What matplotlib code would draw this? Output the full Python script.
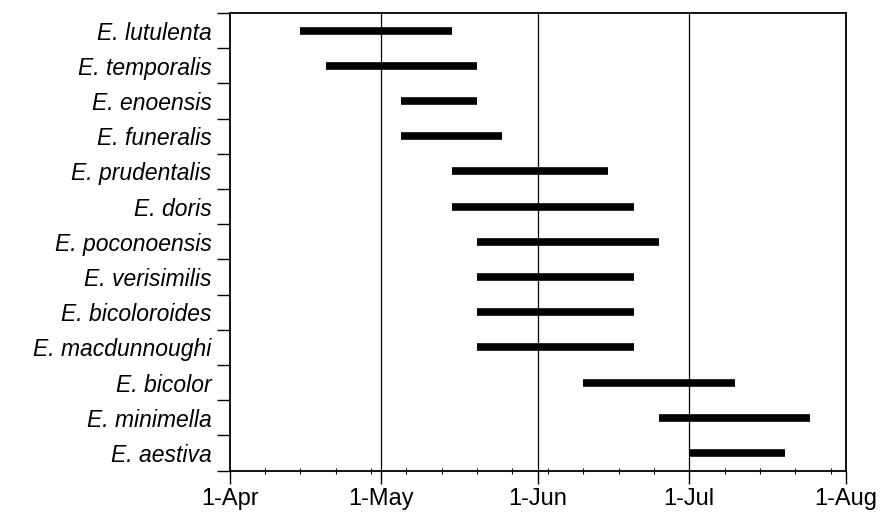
import datetime as dt
import matplotlib
matplotlib.use('Agg')
import matplotlib.pyplot as plt
import matplotlib.dates as mdates
from matplotlib.ticker import FixedLocator

species = ['E. lutulenta', 'E. temporalis', 'E. enoensis', 'E. funeralis',
           'E. prudentalis', 'E. doris', 'E. poconoensis', 'E. verisimilis',
           'E. bicoloroides', 'E. macdunnoughi', 'E. bicolor', 'E. minimella',
           'E. aestiva']
start = ['04-15', '04-20', '05-05', '05-05', '05-15', '05-15', '05-20',
         '05-20', '05-20', '05-20', '06-10', '06-25', '07-01']
end = ['05-15', '05-20', '05-20', '05-25', '06-15', '06-20', '06-25',
       '06-20', '06-20', '06-20', '07-10', '07-25', '07-20']
month_ticks = ['04-01', '05-01', '06-01', '07-01', '08-01']
month_labels = ['1-Apr', '1-May', '1-Jun', '1-Jul', '1-Aug']

YEAR = 2001
def d(s):
    m, day = s.split('-')
    return dt.date(YEAR, int(m), int(day))

plt.rcParams['font.family'] = ['Liberation Sans', 'DejaVu Sans']

fig = plt.figure(figsize=(8.82, 5.13), dpi=100)
ax = fig.add_axes([0.2604, 0.0825, 0.6985, 0.8922])

ys = list(range(len(species)))
ax.hlines(ys, [mdates.date2num(d(s)) for s in start],
          [mdates.date2num(d(e)) for e in end],
          color='black', linewidth=5.5, capstyle='butt', zorder=3)

xt = [mdates.date2num(d(s)) for s in month_ticks]
ax.set_xlim(xt[0], xt[-1])
ax.set_xticks(xt)
ax.set_xticklabels(month_labels, fontsize=17)
weeks = [xt[0] + 7 * k for k in range(18)]
ax.xaxis.set_minor_locator(FixedLocator([w for w in weeks if w not in xt]))
for x in xt[1:-1]:
    ax.axvline(x, color='black', linewidth=0.9, zorder=1)

ax.set_ylim(len(species) - 0.5, -0.5)
ax.set_yticks([i - 0.5 for i in range(len(species) + 1)])
ax.set_yticklabels([])
ax.set_yticks(ys, minor=True)
ax.set_yticklabels(species, minor=True, fontsize=16.5, style='italic')

ax.tick_params(axis='both', which='major', direction='out', length=9.5,
               width=1.0, color='black')
ax.tick_params(axis='x', which='minor', direction='inout', length=5, width=0.8)
ax.tick_params(axis='y', which='minor', length=0, pad=13)
ax.tick_params(axis='x', which='major', pad=3)

for sp in ax.spines.values():
    sp.set_linewidth(1.3)
    sp.set_color('black')

fig.savefig('out.png', dpi=100)
